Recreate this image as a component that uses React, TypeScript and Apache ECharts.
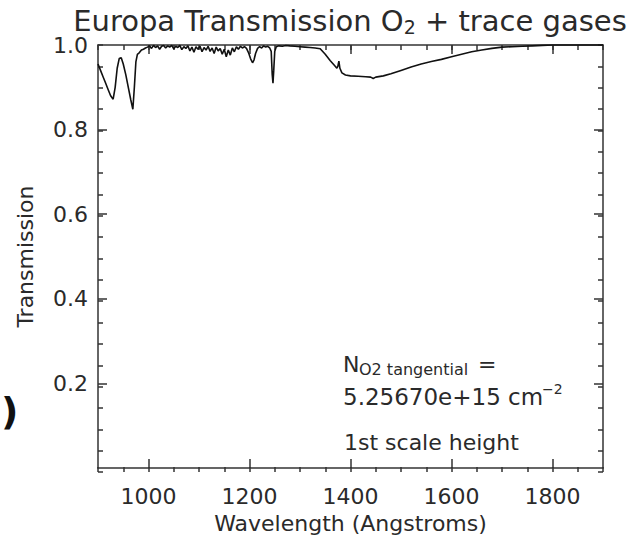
import React, { useEffect, useRef } from "react";
import * as echarts from "echarts";

const wavelengths = [
  900, 905, 910, 915, 920, 925, 930, 934, 938, 942, 946, 950, 955, 960, 965, 969, 972, 975, 978, 982, 986, 990, 994, 998,
  1002, 1006, 1010, 1014, 1018, 1022, 1026, 1030, 1034, 1038, 1042, 1046, 1050, 1054, 1058, 1062, 1066, 1070, 1074, 1078,
  1082, 1086, 1090, 1094, 1098, 1102, 1106, 1110, 1114, 1118, 1122, 1126, 1130, 1134, 1138, 1142, 1146, 1150, 1154, 1158,
  1162, 1166, 1170, 1174, 1178, 1182, 1186, 1190, 1194, 1198, 1202, 1206, 1209, 1212, 1216, 1220, 1224, 1228, 1232, 1236,
  1240, 1243, 1245, 1246.5, 1248, 1250, 1253, 1258, 1265, 1272, 1280, 1290, 1300, 1310, 1320, 1330, 1340, 1350, 1360, 1368,
  1373, 1375, 1377, 1379, 1383, 1390, 1400, 1415, 1430, 1440, 1445, 1450, 1465, 1480, 1500, 1520, 1540, 1560, 1580, 1600,
  1620, 1640, 1660, 1680, 1700, 1720, 1740, 1760, 1780, 1800, 1850, 1900,
];
const transmission = [
  0.955, 0.94, 0.925, 0.91, 0.895, 0.88, 0.872, 0.9, 0.945, 0.968, 0.97, 0.955, 0.93, 0.9, 0.87, 0.848, 0.9, 0.96, 0.978, 0.982, 0.988, 0.99, 0.993, 0.995,
  0.998, 0.992, 0.999, 0.994, 0.998, 0.99, 0.997, 0.999, 0.993, 0.998, 0.995, 0.999, 0.991, 0.997, 0.994, 0.999, 0.989, 0.996, 0.992, 0.998,
  0.986, 0.995, 0.983, 0.996, 0.99, 0.997, 0.984, 0.994, 0.988, 0.997, 0.985, 0.993, 0.98, 0.995, 0.986, 0.992, 0.978, 0.99, 0.972, 0.988,
  0.976, 0.993, 0.984, 0.996, 0.99, 0.997, 0.993, 0.996, 0.992, 0.982, 0.968, 0.958, 0.965, 0.98, 0.992, 0.996, 0.993, 0.998, 0.995, 0.997,
  0.993, 0.985, 0.93, 0.91, 0.94, 0.985, 0.996, 0.998, 0.997, 0.999, 0.998, 0.997, 0.996, 0.995, 0.994, 0.993, 0.991, 0.978, 0.963, 0.952,
  0.945, 0.95, 0.962, 0.945, 0.934, 0.929, 0.927, 0.926, 0.925, 0.924, 0.921, 0.924, 0.927, 0.932, 0.94, 0.948, 0.955, 0.961, 0.966, 0.972,
  0.978, 0.984, 0.988, 0.992, 0.995, 0.996, 0.997, 0.998, 0.999, 1.0, 1.0, 1.0,
];

const xMajorTicks = [1000, 1200, 1400, 1600, 1800];
const yMajorTicks = [0.2, 0.4, 0.6, 0.8];
const yLabelValues = [0.2, 0.4, 0.6, 0.8, 1.0];
const titleMain = "Europa Transmission O";
const titleSub = "2";
const titleRest = " + trace gases";
const xName = "Wavelength (Angstroms)";
const yName = "Transmission";
const noteN = "N";
const noteSub = "O2 tangential";
const noteEq = "=";
const noteValue = "5.25670e+15 cm";
const noteExp = "\u22122";
const noteScale = "1st scale height";

const FONT = "DejaVu Sans";
const TXT = "#2a2a2a";
const AX = "#333";

export default function App() {
  const ref = useRef<HTMLDivElement>(null);
  useEffect(() => {
    const chart = echarts.init(ref.current!, null, { renderer: "svg" });
    const lineStyle = { color: AX, width: 1.5 };
    const gridRect = { left: 98, top: 45, width: 505, height: 427 };
    const baseX = { type: "value", min: 900, max: 1900, splitLine: { show: false } };
    const baseY = { type: "value", min: 0, max: 1, splitLine: { show: false } };
    const option: any = {
      animation: false,
      backgroundColor: "#fff",
      grid: [
        { ...gridRect, containLabel: false },
        { ...gridRect, containLabel: false },
      ],
      xAxis: [
        {
          ...baseX,
          gridIndex: 0,
          position: "bottom",
          axisLine: { show: true, onZero: false, lineStyle },
          axisTick: { show: true, inside: true, length: 9, customValues: xMajorTicks, lineStyle },
          axisLabel: {
            show: true,
            customValues: xMajorTicks,
            margin: 17,
            fontSize: 22,
            fontFamily: FONT,
            color: TXT,
            formatter: (v: number) => String(v),
          },
          name: xName,
          nameLocation: "middle",
          nameGap: 42,
          nameTextStyle: { fontSize: 22, fontFamily: FONT, color: TXT },
        },
        {
          ...baseX,
          gridIndex: 0,
          position: "top",
          axisLine: { show: true, onZero: false, lineStyle },
          axisTick: { show: true, inside: true, length: 9, customValues: xMajorTicks, lineStyle },
          axisLabel: { show: false },
        },
        {
          ...baseX,
          gridIndex: 1,
          position: "bottom",
          interval: 50,
          axisLine: { show: false, onZero: false },
          axisTick: { show: true, inside: true, length: 5, lineStyle },
          axisLabel: { show: false },
        },
        {
          ...baseX,
          gridIndex: 1,
          position: "top",
          interval: 50,
          axisLine: { show: false, onZero: false },
          axisTick: { show: true, inside: true, length: 5, lineStyle },
          axisLabel: { show: false },
        },
      ],
      yAxis: [
        {
          ...baseY,
          gridIndex: 0,
          position: "left",
          axisLine: { show: true, onZero: false, lineStyle },
          axisTick: { show: true, inside: true, length: 9, customValues: yMajorTicks, lineStyle },
          axisLabel: {
            show: true,
            customValues: yLabelValues,
            margin: 10,
            fontSize: 22,
            fontFamily: FONT,
            color: TXT,
            formatter: (v: number) => v.toFixed(1),
          },
          name: yName,
          nameLocation: "middle",
          nameRotate: 90,
          nameGap: 62,
          nameTextStyle: { fontSize: 22, fontFamily: FONT, color: TXT },
        },
        {
          ...baseY,
          gridIndex: 0,
          position: "right",
          axisLine: { show: true, onZero: false, lineStyle },
          axisTick: { show: true, inside: true, length: 9, customValues: yMajorTicks, lineStyle },
          axisLabel: { show: false },
        },
        {
          ...baseY,
          gridIndex: 1,
          position: "left",
          interval: 0.05,
          axisLine: { show: false, onZero: false },
          axisTick: { show: true, inside: true, length: 5, lineStyle },
          axisLabel: { show: false },
        },
        {
          ...baseY,
          gridIndex: 1,
          position: "right",
          interval: 0.05,
          axisLine: { show: false, onZero: false },
          axisTick: { show: true, inside: true, length: 5, lineStyle },
          axisLabel: { show: false },
        },
      ],
      series: [
        {
          type: "line",
          xAxisIndex: 0,
          yAxisIndex: 0,
          data: wavelengths.map((w, i) => [w, transmission[i]]),
          showSymbol: false,
          symbol: "none",
          clip: false,
          lineStyle: { color: "#111", width: 1.6 },
        },
      ],
      graphic: [
        {
          type: "text",
          x: 350,
          y: 21,
          style: {
            text: `{a|${titleMain}}{s|${titleSub}}{a|${titleRest}}`,
            align: "center",
            verticalAlign: "middle",
            fill: TXT,
            rich: {
              a: { fontSize: 29, fontFamily: FONT, fill: TXT, lineHeight: 30 },
              s: { fontSize: 19, fontFamily: FONT, fill: TXT, lineHeight: 12, verticalAlign: "bottom" },
            },
          },
        },
        { type: "text", x: 343, y: 364.4, style: { text: noteN, fontSize: 22, fontFamily: FONT, fill: TXT, verticalAlign: "middle" } },
        { type: "text", x: 359, y: 369.5, style: { text: noteSub, fontSize: 16, fontFamily: FONT, fill: TXT, verticalAlign: "middle" } },
        { type: "text", x: 478, y: 364.4, style: { text: noteEq, fontSize: 22, fontFamily: FONT, fill: TXT, verticalAlign: "middle" } },
        { type: "text", x: 343, y: 397.4, style: { text: noteValue, fontSize: 23, fontFamily: FONT, fill: TXT, verticalAlign: "middle" } },
        { type: "text", x: 542, y: 389, style: { text: noteExp, fontSize: 14, fontFamily: FONT, fill: TXT, verticalAlign: "middle" } },
        { type: "text", x: 344, y: 442.4, style: { text: noteScale, fontSize: 22, fontFamily: FONT, fill: TXT, verticalAlign: "middle" } },
        { type: "text", x: 1, y: 411, style: { text: ")", fontSize: 38, fontWeight: "bold", fontFamily: FONT, fill: "#111", verticalAlign: "middle" } },
      ],
    };
    chart.setOption(option);
    return () => chart.dispose();
  }, []);
  return (
    <div
      ref={ref}
      style={{ position: "fixed", left: 0, top: 0, width: 637, height: 539, background: "#fff" }}
    />
  );
}
